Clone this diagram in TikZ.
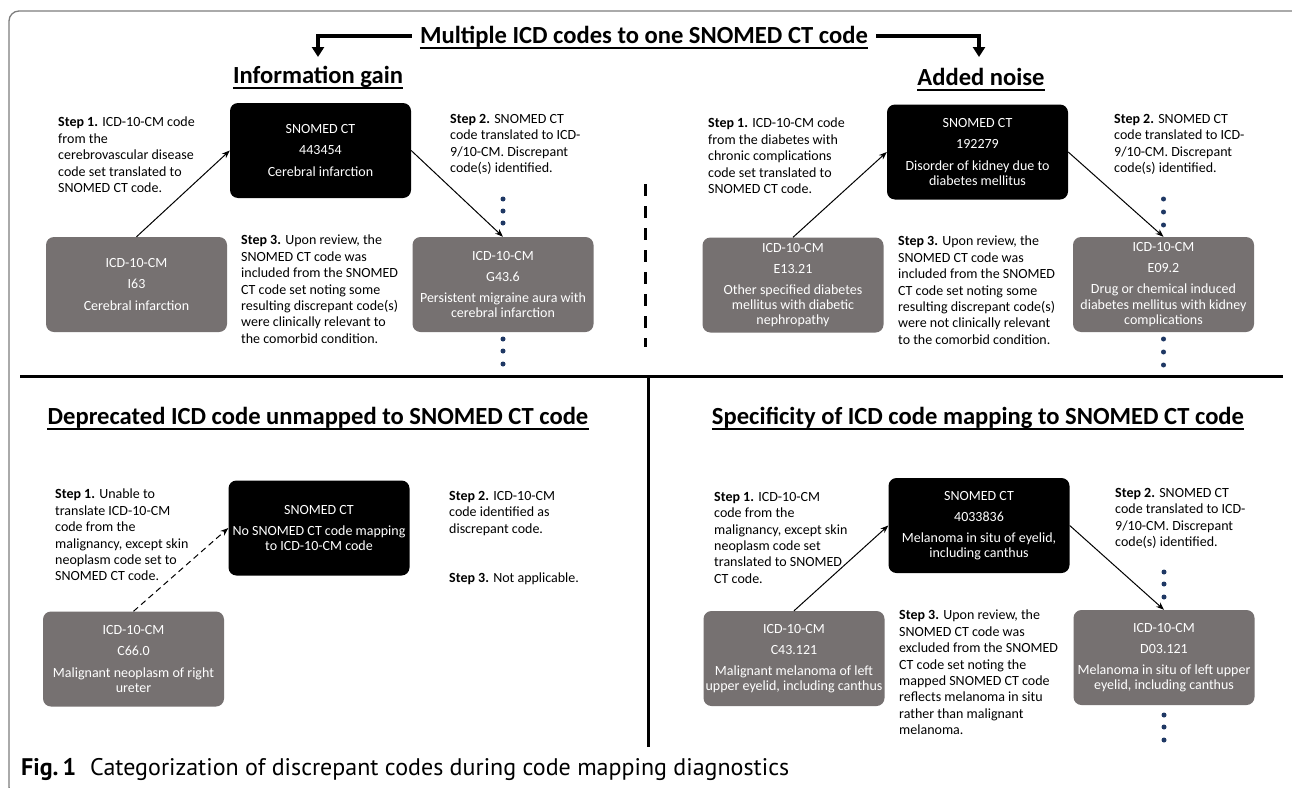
\documentclass[tikz,border=0pt]{standalone}
\usepackage{fontspec}
\setmainfont{Carlito}
\newfontfamily\capfont{PT Sans}
\usetikzlibrary{arrows.meta}

\definecolor{boxgray}{RGB}{118,113,113}
\definecolor{dotblue}{RGB}{31,56,100}
\definecolor{framegray}{RGB}{125,125,125}

\tikzset{
 codebox/.style={rounded corners=8pt, minimum width=181pt, minimum height=95pt, text=white, align=center, font=\fontsize{14}{15.2}\selectfont, inner sep=2pt},
 snobox/.style={codebox, fill=black},
 icdbox/.style={codebox, fill=boxgray},
 steptext/.style={anchor=north west, align=left, inner sep=0pt, font=\fontsize{14}{16.4}\selectfont},
 conn/.style={-{Stealth[length=8pt,width=6pt]}, line width=1pt},
 dconn/.style={conn, dash pattern=on 6pt off 4pt},
 headtitle/.style={font=\bfseries\fontsize{24.6}{28}\selectfont, inner sep=0pt},
 undl/.style={line width=1.5pt},
 bigarrow/.style={line width=3.5pt, -{Triangle[length=10pt,width=12pt]}},
 vdot/.style={circle, fill=dotblue, inner sep=0pt, minimum size=5pt},
 rule/.style={line width=3pt},
}

\begin{document}
\begin{tikzpicture}[x=1pt,y=-1pt]
\useasboundingbox (0,0) rectangle (1292,787);
\begin{scope}
\clip (0,0) rectangle (1292,787);
\fill[white] (0,0) rectangle (1292,787);
\draw[framegray, line width=1.3pt, rounded corners=10pt] (9,11) rectangle (1302,797);
\end{scope}

% ---------- headings ----------
\node[headtitle] (t0) at (644,37) {Multiple ICD codes to one SNOMED CT code};
\node[headtitle] (t1) at (318,77) {Information gain};
\node[headtitle] (t2) at (981,77) {Added noise};
\node[headtitle] (t3) at (318,418) {Deprecated ICD code unmapped to SNOMED CT code};
\node[headtitle] (t4) at (978,418) {Specificity of ICD code mapping to SNOMED CT code};
\foreach \t in {t0,t1,t2,t3,t4}
  \draw[undl] ([yshift=-4.5pt]\t.base west) -- ([yshift=-4.5pt]\t.base east);

\coordinate (la1) at (318,36);
\coordinate (la2) at (318,57);
\coordinate (ra1) at (979,36);
\coordinate (ra2) at (979,57);
\draw[bigarrow] ([xshift=-8pt]t0.west |- la1) -- (la1) -- (la2);
\draw[bigarrow] ([xshift=8pt]t0.east |- ra1) -- (ra1) -- (ra2);

% ---------- separators ----------
\coordinate (dv1) at (645,184);
\coordinate (dv2) at (645,347);
\draw[line width=3pt, dash pattern=on 12pt off 10pt] (dv1) -- (dv2);
\coordinate (h1) at (20,376);
\coordinate (h2) at (1283,376);
\draw[rule] (h1) -- (h2);
\coordinate (v1) at (648,376);
\coordinate (v2) at (648,747);
\draw[rule] (v1) -- (v2);

% ---------- top-left: information gain ----------
\node[snobox] (a0) at (320.5,150.5) {SNOMED CT\\[6pt]443454\\[6pt]Cerebral infarction};
\node[icdbox] (a1) at (136.5,284.5) {ICD-10-CM\\[6pt]I63\\[6pt]Cerebral infarction};
\node[icdbox] (a2) at (503,284.5) {ICD-10-CM\\[6pt]G43.6\\[6pt]Persistent migraine aura with\\cerebral infarction};
\draw[conn] (a1.north) -- (a0.west);
\draw[conn] (a0.east) -- (a2.north);
\foreach \y/\n in {199/1,211/2,223/3} \node[vdot] (ad\n) at (503,\y) {};
\foreach \y/\n in {339/4,351/5,364/6} \node[vdot] (ad\n) at (503,\y) {};
\node[steptext] (as1) at (58,117) {\textbf{Step 1.} ICD-10-CM code\\from the\\cerebrovascular disease\\code set translated to\\SNOMED CT code.};
\node[steptext] (as2) at (450,114) {\textbf{Step 2.} SNOMED CT\\code translated to ICD-\\9/10-CM. Discrepant\\code(s) identified.};
\node[steptext] (as3) at (241,235) {\textbf{Step 3.} Upon review, the\\SNOMED CT code was\\included from the SNOMED\\CT code set noting some\\resulting discrepant code(s)\\were clinically relevant to\\the comorbid condition.};

% ---------- top-right: added noise ----------
\node[snobox] (b0) at (977.5,152) {SNOMED CT\\[6pt]192279\\[6pt]Disorder of kidney due to\\diabetes mellitus};
\node[icdbox] (b1) at (793,285) {ICD-10-CM\\[6pt]E13.21\\[6pt]Other specified diabetes\\mellitus with diabetic\\nephropathy};
\node[icdbox] (b2) at (1163.5,284.5) {ICD-10-CM\\[6pt]E09.2\\[6pt]Drug or chemical induced\\diabetes mellitus with kidney\\complications};
\draw[conn] (b1.north) -- (b0.west);
\draw[conn] (b0.east) -- (b2.north);
\foreach \y/\n in {199/1,212/2,225/3} \node[vdot] (bd\n) at (1163.5,\y) {};
\foreach \y/\n in {339/4,352/5,365/6} \node[vdot] (bd\n) at (1163.5,\y) {};
\node[steptext] (bs1) at (708,118) {\textbf{Step 1.} ICD-10-CM code\\from the diabetes with\\chronic complications\\code set translated to\\SNOMED CT code.};
\node[steptext] (bs2) at (1114,114) {\textbf{Step 2.} SNOMED CT\\code translated to ICD-\\9/10-CM. Discrepant\\code(s) identified.};
\node[steptext] (bs3) at (898,236) {\textbf{Step 3.} Upon review, the\\SNOMED CT code was\\included from the SNOMED\\CT code set noting some\\resulting discrepant code(s)\\were not clinically relevant\\to the comorbid condition.};

% ---------- bottom-left: deprecated ----------
\node[snobox] (c0) at (319,528) {SNOMED CT\\[6pt]No SNOMED CT code mapping\\to ICD-10-CM code};
\node[icdbox] (c1) at (133.5,659) {ICD-10-CM\\[6pt]C66.0\\[6pt]Malignant neoplasm of right\\ureter};
\draw[dconn] (c1.north) -- (c0.west);
\node[steptext] (cs1) at (55,489) {\textbf{Step 1.} Unable to\\translate ICD-10-CM\\code from the\\malignancy, except skin\\neoplasm code set to\\SNOMED CT code.};
\node[steptext] (cs2) at (449,491) {\textbf{Step 2.} ICD-10-CM\\code identified as\\discrepant code.};
\node[steptext] (cs3) at (449,573) {\textbf{Step 3.} Not applicable.};

% ---------- bottom-right: specificity ----------
\node[snobox] (d0) at (979,525.5) {SNOMED CT\\[6pt]4033836\\[6pt]Melanoma in situ of eyelid,\\including canthus};
\node[icdbox] (d1) at (794,658.5) {ICD-10-CM\\[6pt]C43.121\\[6pt]Malignant melanoma of left\\upper eyelid, including canthus};
\node[icdbox] (d2) at (1164,657.5) {ICD-10-CM\\[6pt]D03.121\\[6pt]Melanoma in situ of left upper\\eyelid, including canthus};
\draw[conn] (d1.north) -- (d0.west);
\draw[conn] (d0.east) -- (d2.north);
\foreach \y/\n in {572/1,584/2,597/3} \node[vdot] (dd\n) at (1164,\y) {};
\foreach \y/\n in {715/4,727/5,740/6} \node[vdot] (dd\n) at (1164,\y) {};
\node[steptext] (ds1) at (714,492) {\textbf{Step 1.} ICD-10-CM\\code from the\\malignancy, except skin\\neoplasm code set\\translated to SNOMED\\CT code.};
\node[steptext] (ds2) at (1115,488) {\textbf{Step 2.} SNOMED CT\\code translated to ICD-\\9/10-CM. Discrepant\\code(s) identified.};
\node[steptext] (ds3) at (899,610) {\textbf{Step 3.} Upon review, the\\SNOMED CT code was\\excluded from the SNOMED\\CT code set noting the\\mapped SNOMED CT code\\reflects melanoma in situ\\rather than malignant\\melanoma.};

% ---------- caption ----------
\node[anchor=base west, inner sep=0pt, font=\capfont\fontsize{24}{28}\selectfont] (cap) at (21,775) {\textbf{Fig.\,1}\hspace{14pt}Categorization of discrepant codes during code mapping diagnostics};
\end{tikzpicture}
\end{document}
